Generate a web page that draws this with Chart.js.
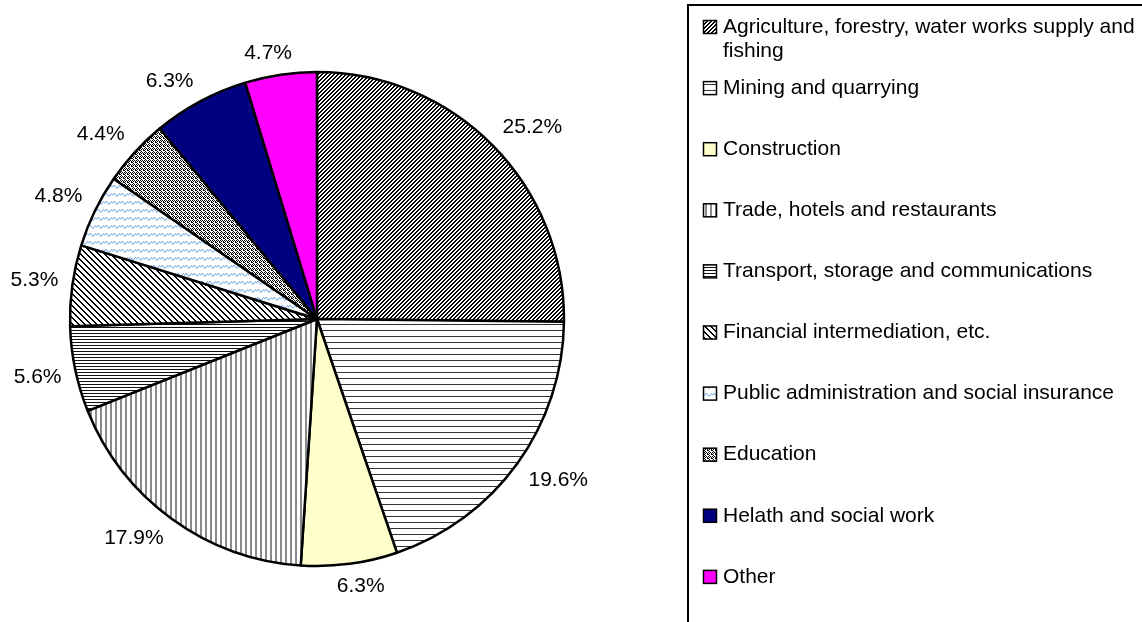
<!DOCTYPE html>
<html>
<head>
  <meta name="viewport" content="width=device-width, initial-scale=1.0">
  <title>Employment by sector</title>
  <script src="https://cdn.jsdelivr.net/npm/chart.js"></script>
  <style>
    body {
      margin: 0;
      padding: 0;
      background: #fff;
    }
    #wrap {
      width: 1142px;
      height: 622px;
    }
  </style>
</head>
<body>
  <div id="wrap"><canvas id="myChart" width="1142" height="622"></canvas></div>

  <script>
    const categories = [
      'Agriculture, forestry, water works supply and fishing',
      'Mining and quarrying',
      'Construction',
      'Trade, hotels and restaurants',
      'Transport, storage and communications',
      'Financial intermediation, etc.',
      'Public administration and social insurance',
      'Education',
      'Helath and social work',
      'Other'
    ];
    const shares = [25.2, 19.6, 6.3, 17.9, 5.6, 5.3, 4.8, 4.4, 6.3, 4.7];
    const fills = ['diagUp', 'hWide', '#FFFFCC', 'vLines', 'hDense', 'diagDown', 'wave', 'dots', '#000080', '#FF00FF'];

    const FONT = '21px "Liberation Sans", Arial, sans-serif';

    // small tiles drawn pixel by pixel, used as canvas patterns
    function makePattern(kind) {
      const c = document.createElement('canvas');
      const g = c.getContext('2d');
      let s = 4;
      if (kind === 'hWide') s = 6;
      if (kind === 'vLines') s = 5;
      if (kind === 'hDense') s = 3;
      if (kind === 'diagDown') s = 6;
      if (kind === 'wave') s = 8;
      c.width = s; c.height = s;
      g.fillStyle = '#fff';
      g.fillRect(0, 0, s, s);
      if (kind === 'diagUp') {
        g.fillStyle = '#000';
        for (let i = 0; i < 4; i++) {
          g.fillRect(i, 3 - i, 1, 1);
          g.fillRect((i + 1) % 4, 3 - i, 1, 1);
        }
      } else if (kind === 'hWide') {
        g.fillStyle = '#333';
        g.fillRect(0, 0, s, 1);
      } else if (kind === 'vLines') {
        g.fillStyle = '#8a8a8a';
        g.fillRect(0, 0, 2, s);
      } else if (kind === 'hDense') {
        g.fillStyle = '#111';
        g.fillRect(0, 0, s, 1);
      } else if (kind === 'diagDown') {
        g.fillStyle = '#000';
        for (let i = 0; i < 6; i++) {
          g.fillRect(i, i, 1, 1);
          g.fillRect((i + 1) % 6, i, 1, 1);
        }
      } else if (kind === 'wave') {
        g.fillStyle = '#8fb8ea';
        const ys = [2, 1, 1, 2, 3, 3, 2, 1];
        for (let x = 0; x < 8; x++) g.fillRect(x, ys[x], 1, 1);
        g.fillStyle = '#c4daf5';
        for (let x = 0; x < 8; x++) g.fillRect(x, ys[x] + 1, 1, 1);
      } else if (kind === 'dots') {
        g.fillStyle = '#000';
        const px = [[0,0],[2,0],[1,1],[3,1],[0,2],[1,3],[3,3],[2,2]];
        px.slice(0, 6).forEach(p => g.fillRect(p[0], p[1], 1, 1));
        g.fillRect(3, 2, 1, 1);
      }
      return g.createPattern(c, 'repeat');
    }

    const bg = fills.map(f => f.startsWith('#') ? f : makePattern(f));

    const clamp = v => Math.max(-1, Math.min(1, v));

    // percentage labels just outside the rim, text box pushed away from the pie
    const pctLabels = {
      id: 'pctLabels',
      afterDatasetsDraw(chart) {
        const ctx = chart.ctx;
        const arcs = chart.getDatasetMeta(0).data;
        ctx.save();
        ctx.font = FONT;
        ctx.fillStyle = '#000';
        ctx.textAlign = 'center';
        ctx.textBaseline = 'middle';
        arcs.forEach((arc, i) => {
          const a = (arc.startAngle + arc.endAngle) / 2;
          const txt = shares[i].toFixed(1) + '%';
          const w = ctx.measureText(txt).width;
          const r = arc.outerRadius + 14;
          const x = arc.x + r * Math.cos(a) + (w / 2) * clamp(3 * Math.cos(a));
          const y = arc.y + r * Math.sin(a) + 8 * clamp(3 * Math.sin(a));
          ctx.fillText(txt, x, y);
        });
        ctx.restore();
      }
    };

    const boxLegend = {
      id: 'boxLegend',
      afterDraw(chart) {
        const ctx = chart.ctx;
        ctx.save();
        ctx.strokeStyle = '#000';
        ctx.lineWidth = 2;
        ctx.strokeRect(688, 5, 600, 700);
        ctx.font = FONT;
        ctx.textBaseline = 'middle';
        categories.forEach((name, i) => {
          const y = 27 + i * 61.1;
          ctx.fillStyle = bg[i];
          ctx.fillRect(703, y - 7, 14, 14);
          ctx.lineWidth = 1.5;
          ctx.strokeRect(703.5, y - 6.5, 13, 13);
          // wrap long names onto a second line
          const words = name.split(' ');
          let line = '', ly = y;
          ctx.fillStyle = '#000';
          words.forEach(wd => {
            const test = line ? line + ' ' + wd : wd;
            if (ctx.measureText(test).width > 425 && line) {
              ctx.fillText(line, 723, ly);
              line = wd;
              ly += 24;
            } else {
              line = test;
            }
          });
          ctx.fillText(line, 723, ly);
        });
        ctx.restore();
      }
    };

    const ctx = document.getElementById('myChart').getContext('2d');
    new Chart(ctx, {
      type: 'pie',
      data: {
        labels: categories,
        datasets: [{
          data: shares,
          backgroundColor: bg,
          borderColor: '#000',
          borderWidth: 2.5
        }]
      },
      options: {
        responsive: false,
        animation: false,
        radius: 247,
        layout: {
          padding: { left: 70, right: 578, top: 72, bottom: 56 }
        },
        plugins: {
          legend: { display: false },
          tooltip: { enabled: false }
        }
      },
      plugins: [pctLabels, boxLegend]
    });
  </script>
</body>
</html>
